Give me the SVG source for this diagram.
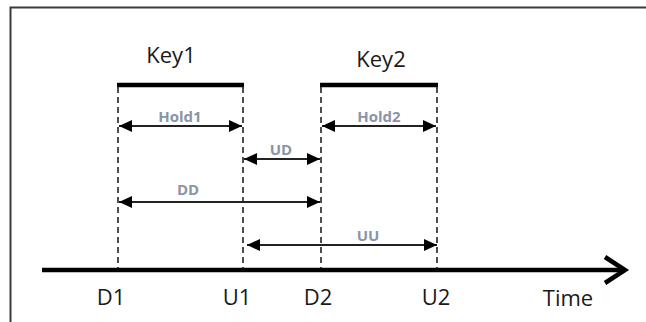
<svg xmlns="http://www.w3.org/2000/svg" width="646" height="322" viewBox="0 0 646 322">
<defs>
<style>
.dash{stroke:#222;stroke-width:1.6;stroke-dasharray:6 4;fill:none}
.bar{stroke:#000;stroke-width:4.5;fill:none}
.dim{stroke:#222;stroke-width:2;fill:none}
.lbl{font-family:"Open Sans","Liberation Sans",sans-serif;font-weight:bold;font-size:15px;fill:#8a94a6;text-anchor:middle}
.big{font-family:"Open Sans","Liberation Sans",sans-serif;font-size:22px;fill:#1a1a1a;text-anchor:middle}
</style>
<marker id="ah" viewBox="0 0 13 12" refX="13" refY="6" markerWidth="13" markerHeight="12" markerUnits="userSpaceOnUse" orient="auto-start-reverse">
<path d="M0,0 L13,6 L0,12 Z" fill="#000"/>
</marker>
</defs>
<rect x="0" y="0" width="646" height="322" fill="#fff"/>
<g id="frame">
<path d="M10.5,322 V7.5 H646" fill="none" stroke="#3a3a3a" stroke-width="2"/>
</g>
<g id="key1">
<line class="bar" x1="117" y1="85" x2="244" y2="85"/>
<text class="big" x="171" y="63">Key1</text>
</g>
<g id="key2">
<line class="bar" x1="320" y1="85" x2="438" y2="85"/>
<text class="big" x="381" y="67">Key2</text>
</g>
<g id="time-axis">
<line x1="42" y1="270" x2="624" y2="270" stroke="#000" stroke-width="4.5"/>
<path d="M605,257 L625,270 L605,283" fill="none" stroke="#000" stroke-width="4.5" stroke-linejoin="miter"/>
<text class="big" x="111" y="305">D1</text>
<text class="big" x="237" y="305">U1</text>
<text class="big" x="318" y="305">D2</text>
<text class="big" x="436" y="305">U2</text>
<text class="big" x="568" y="306">Time</text>
</g>
<g id="connectors">
<line class="dash" x1="118" y1="87" x2="118" y2="268"/>
<line class="dash" x1="243" y1="87" x2="243" y2="268"/>
<line class="dash" x1="321" y1="87" x2="321" y2="268"/>
<line class="dash" x1="437" y1="87" x2="437" y2="268"/>
<line class="dim" x1="119" y1="126" x2="242" y2="126" marker-start="url(#ah)" marker-end="url(#ah)"/>
<line class="dim" x1="322" y1="126" x2="436" y2="126" marker-start="url(#ah)" marker-end="url(#ah)"/>
<line class="dim" x1="244" y1="159" x2="320" y2="159" marker-start="url(#ah)" marker-end="url(#ah)"/>
<line class="dim" x1="119" y1="202" x2="320" y2="202" marker-start="url(#ah)" marker-end="url(#ah)"/>
<line class="dim" x1="247" y1="245" x2="437" y2="245" marker-start="url(#ah)" marker-end="url(#ah)"/>
</g>
<g id="labels">
<text class="lbl" x="180" y="122">Hold1</text>
<text class="lbl" x="379" y="122">Hold2</text>
<text class="lbl" x="281" y="155">UD</text>
<text class="lbl" x="188" y="195">DD</text>
<text class="lbl" x="368" y="241">UU</text>
</g>
</svg>
